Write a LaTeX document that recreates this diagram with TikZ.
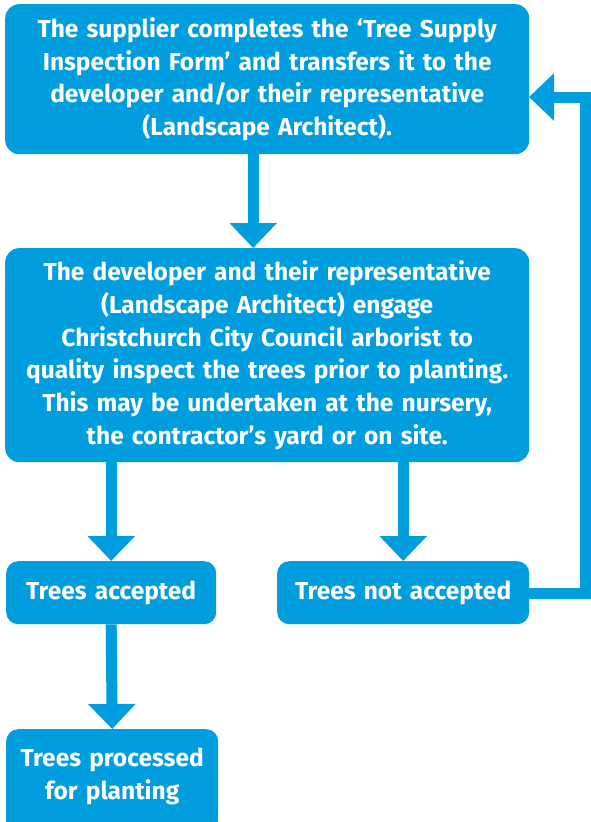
\documentclass[tikz,border=0pt]{standalone}
\usepackage{fontspec}
\setmainfont{Fira Sans}
\usetikzlibrary{arrows.meta}
\definecolor{cblue}{RGB}{0,157,223}
\begin{document}
\begin{tikzpicture}[x=1pt,y=-1pt,
  box/.style={fill=cblue,rounded corners=14pt,text=white,align=center,inner sep=0pt,anchor=north west,
    font=\fontsize{24.5}{32.8}\selectfont\bfseries},
  arr/.style={draw=cblue,line width=11pt,-{Triangle[width=46pt,length=25pt]}},
  ln/.style={draw=cblue,line width=11pt}]
\useasboundingbox (0,0) rectangle (591,822);
\node[box,minimum width=524pt,minimum height=150pt,text width=520pt] (b1) at (5,4)
  {The supplier completes the ‘Tree Supply\\Inspection Form’ and transfers it to the\\developer and/or their representative\\(Landscape Architect).};
\node[box,minimum width=524pt,minimum height=214pt,text width=520pt] (b2) at (5,248)
  {The developer and their representative\\(Landscape Architect) engage\\Christchurch City Council arborist to\\quality inspect the trees prior to planting.\\This may be undertaken at the nursery,\\the contractor’s yard or on site.};
\node[box,rounded corners=12pt,minimum width=210pt,minimum height=63pt,text width=206pt] (acc) at (6,561) {Trees accepted};
\node[box,rounded corners=12pt,minimum width=252pt,minimum height=63pt,text width=248pt] (na) at (277,561) {Trees not accepted};
\fill[cblue] (6,790) rectangle (218,830);
\node[box,rounded corners=12pt,minimum width=212pt,minimum height=94pt,text width=208pt] (pr) at (6,729) {Trees processed\\for planting};
\coordinate (rc) at (585,593);
\coordinate (ri) at (529,97);
\draw[arr] ([xshift=-14pt]b1.south) -- ([xshift=-14pt]b2.north);
\draw[arr] (b2.south -| acc.north) -- (acc.north);
\draw[arr] (b2.south -| na.north) -- (na.north);
\draw[arr] (acc.south) -- (pr.north);
\draw[arr] (na.east |- rc) -- (rc) |- (ri);
\end{tikzpicture}
\end{document}
